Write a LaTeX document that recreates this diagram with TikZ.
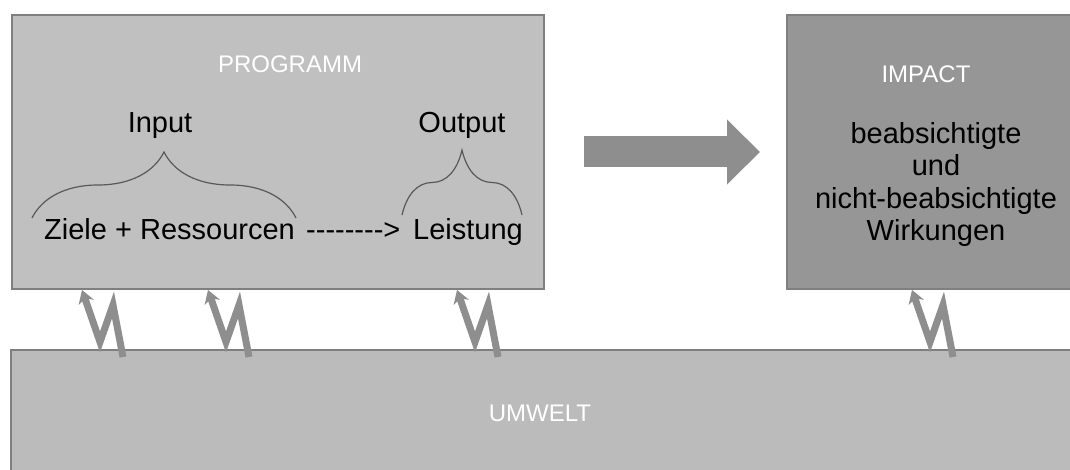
\documentclass[tikz,border=0pt]{standalone}
\usepackage{fontspec}
\setmainfont{Liberation Sans}
\usetikzlibrary{positioning, calc, arrows.meta, decorations.pathreplacing}
\definecolor{boxhell}{HTML}{C0C0C0}
\definecolor{boxdunkel}{HTML}{969696}
\definecolor{umweltgrau}{HTML}{BBBBBB}
\definecolor{rand}{HTML}{7F7F7F}
\definecolor{pfeilgrau}{HTML}{8E8E8E}
\tikzset{
    kasten/.style = {draw=rand, line width=2pt, inner sep=0pt, anchor=north west},
    titel/.style = {white, inner sep=0pt, font=\fontsize{24}{28}\selectfont},
    schrift/.style = {black, inner sep=0pt, font=\fontsize{29}{32.5}\selectfont},
    klammer/.style = {draw=black!65, line width=1.2pt, decorate,
        decoration={brace, amplitude=#1}},
    blitz/.style = {draw=pfeilgrau, line width=7pt,
        -{Stealth[length=13pt, width=16pt, inset=4pt]}},
    grosspfeil/.style = {draw=pfeilgrau, line width=31pt,
        -{Triangle[length=33pt, width=63pt]}},
}

\begin{document}
\begin{tikzpicture}[x=1pt, y=-1pt]
            \clip (0,0) rectangle (1070,470);
            % Kaesten
            \node (programm) [kasten, fill=boxhell, minimum width=532pt, minimum height=274pt] at (11,14) {};
            \node (impact) [kasten, fill=boxdunkel, minimum width=300pt, minimum height=274pt] at (786,14) {};
            \node (umwelt) [kasten, fill=umweltgrau, minimum width=1080pt, minimum height=140pt] at (10,349) {};
            % Texte
            \node (ptitel) [titel, anchor=base] at (290,73) {PROGRAMM};
            \node (ititel) [titel, anchor=base] at (926,83) {IMPACT};
            \node (utitel) [titel, anchor=base] at (540,421) {UMWELT};
            \node (input) [schrift, anchor=base] at (160,133) {Input};
            \node (output) [schrift, anchor=base] at (462,133) {Output};
            \node (ziele) [schrift, anchor=base west] at (44,240) {Ziele + Ressourcen};
            \node (leistung) [schrift, anchor=base east] at (523,240) {Leistung};
            \node (strich) [schrift, anchor=base west] at (306,240) {-{}-{}-{}-{}-{}-{}-{}-{}>};
            \node (wirkung) [schrift, anchor=base, align=center] at (936,241)
                {beabsichtigte\\und\\nicht-beabsichtigte\\Wirkungen};
            % Klammern
            \draw[klammer=66pt] (32,218) -- (296,218);
            \draw[klammer=65pt] (402,215) -- (522,215);
            % Pfeile
            \draw[grosspfeil] ([xshift=39pt]programm.east) -- ([xshift=-26pt]impact.west);
            \coordinate (s1) at ([xshift=71pt]programm.south west);
            \coordinate (s2) at ([xshift=197pt]programm.south west);
            \coordinate (s3) at ([xshift=446pt]programm.south west);
            \coordinate (s4) at ([xshift=126pt]impact.south west);
            \foreach \s in {s1,s2,s3,s4}
                \draw[blitz] ($(\s)+(41,67)$) -- ($(\s)+(31,15)$) -- ($(\s)+(18,52)$) -- (\s);
\end{tikzpicture}
\end{document}
